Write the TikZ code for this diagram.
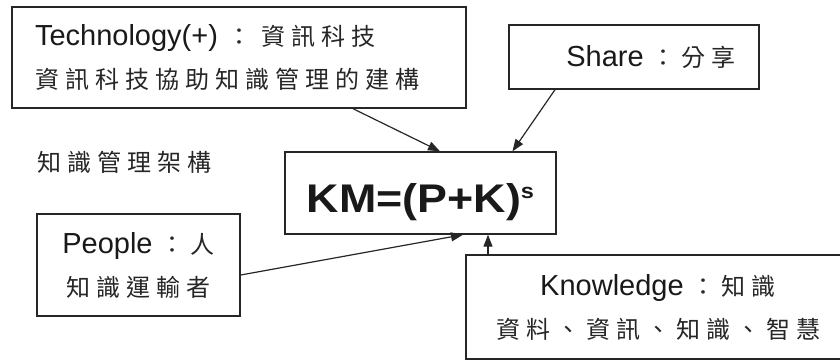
\documentclass[tikz,border=0pt]{standalone}
\usepackage{fontspec}
\usepackage{graphicx}
\setmainfont{Liberation Sans}
\newfontfamily\cjkfont{Noto Sans CJK TC}[LetterSpace=25]
\usetikzlibrary{arrows.meta}
\newcommand\zh[1]{{\fontsize{24}{43}\cjkfont\color{black!85}#1}}
\tikzset{
  box/.style={draw=black!85, line width=1.4pt, inner sep=0pt, text=black!90,
    font=\fontsize{29}{43}\selectfont},
  arr/.style={draw=black!85, line width=1.2pt, -{Triangle[length=12pt,width=9pt]}},
}
\begin{document}
\begin{tikzpicture}[x=1pt,y=-1pt]
\path[use as bounding box, clip] (0,0) rectangle (840,362);
\node[box, minimum width=454pt, minimum height=101pt, text width=408pt, align=left] (tech) at (239,57.5)
  {Technology(+)\ \zh{：\ 資訊科技}\\\zh{資訊科技協助知識管理的建構}};
\node[box, minimum width=250pt, minimum height=64pt] (share) at (634,57)
  {\hspace*{34pt}Share \zh{：分享}};
\node[box, minimum width=271pt, minimum height=82pt, text height=38pt, text depth=0pt,
  font=\fontsize{40}{40}\selectfont\bfseries] (km) at (420.5,193)
  {\scalebox{1.12}[1]{KM=(P+K)\raisebox{14pt}{\fontsize{21}{21}\selectfont s}}};
\node[box, minimum width=203pt, minimum height=102pt, align=center] (people) at (138.5,265)
  {People \zh{：人}\\\zh{知識運輸者}};
\node[box, minimum width=384pt, minimum height=104pt, align=center] (know) at (658,307)
  {Knowledge \zh{：知識}\\\zh{資料、資訊、知識、智慧}};
\node[inner sep=0pt] (title) at (124,162) {\zh{知識管理架構}};
\draw[arr] ([xshift=114pt]tech.south) -- ([xshift=19.5pt]km.north);
\draw[arr] ([xshift=-79pt]share.south) -- ([xshift=92pt]km.north);
\draw[arr] ([yshift=-10pt]people.east) -- ([xshift=42.5pt]km.south);
\draw[arr] ([xshift=-170pt]know.north) -- ([xshift=67.5pt]km.south);
\end{tikzpicture}
\end{document}
